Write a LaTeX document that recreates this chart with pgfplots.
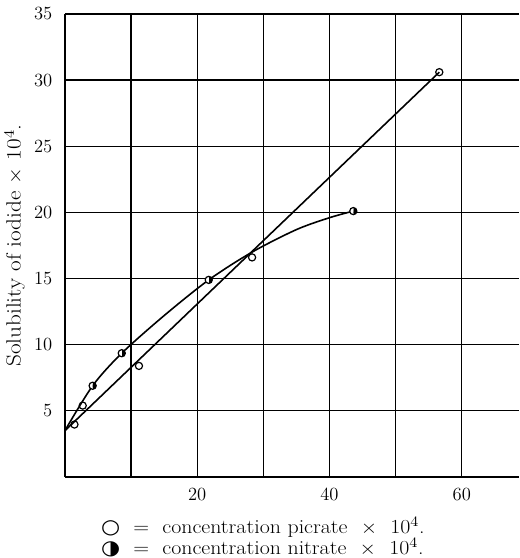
\documentclass[border=0pt]{standalone}
\usepackage{fontspec}
\usepackage{graphicx}
\usepackage{pgfplots}
\pgfplotsset{compat=1.18}
\newfontfamily\dejavu{DejaVu Sans}
\newcommand\lbl{\fontsize{14}{16}\selectfont}
\begin{document}
\begin{tikzpicture}
\begin{axis}[
  name=ax,
  width=342pt, height=349pt, scale only axis,
  xmin=0, xmax=68.6, ymin=0, ymax=35,
  axis x line*=bottom, axis y line*=left,
  axis line style={-, line width=1pt},
  xtick={10,20,30,40,50,60}, xticklabels={,20,,40,,60},
  ytick={5,10,15,20,25,30,35},
  /pgf/number format/assume math mode=true,
  major tick length=0pt,
  grid=major, grid style={black, line width=0.9pt},
  tick label style={font=\lbl},
  xticklabel style={yshift=-5pt},
  yticklabel style={xshift=-6pt},
  ylabel={\scalebox{1.13}[1]{Solubility of iodide $\times$ 10$^{4}$.}},
  ylabel style={font=\fontsize{15.5}{17}\selectfont, yshift=0pt},
  clip=false,
]
% picrate fitted line
\addplot[black, line width=1.2pt] coordinates {(0,3.5) (56.6,30.6)};
% nitrate fitted curve
\addplot[black, line width=1.2pt, smooth] coordinates {(0,3.5) (4.2,6.9) (8.6,9.36) (15,12.2) (21.75,14.9) (28.3,17.0) (35,18.7) (40,19.6) (43.6,20.1)};
% picrate data
\addplot[only marks, mark=o, mark size=2.7pt, mark options={fill=white, draw=black, line width=0.9pt}]
  coordinates {(1.45,3.97) (2.7,5.4) (11.2,8.4) (28.3,16.6) (56.6,30.6)};
% nitrate data
\addplot[only marks, mark=halfcircle*, mark size=2.7pt, mark options={fill=black, draw=black, line width=0.9pt, rotate=-90}]
  coordinates {(4.2,6.9) (8.6,9.36) (21.75,14.9) (43.6,20.1)};
\coordinate (topc) at (rel axis cs:0.5,1);
\coordinate (botc) at (rel axis cs:0.5,0);
\end{axis}
\path (topc) ++(0,10.5pt);
\path (botc) ++(0,-61pt);
\node[anchor=north, align=left, inner sep=0pt, font=\fontsize{15}{16}\selectfont]
  at ([xshift=-21.75pt, yshift=-30pt]botc)
  {\scalebox{1.1}[1]{{\dejavu ○}\ \ =\ \ concentration picrate\ \ $\times$\ \ 10$^{4}$.}\\
   \scalebox{1.1}[1]{{\dejavu ◑}\ \ =\ \ concentration nitrate\ \ $\times$\ \ 10$^{4}$.}};
\end{tikzpicture}
\end{document}
